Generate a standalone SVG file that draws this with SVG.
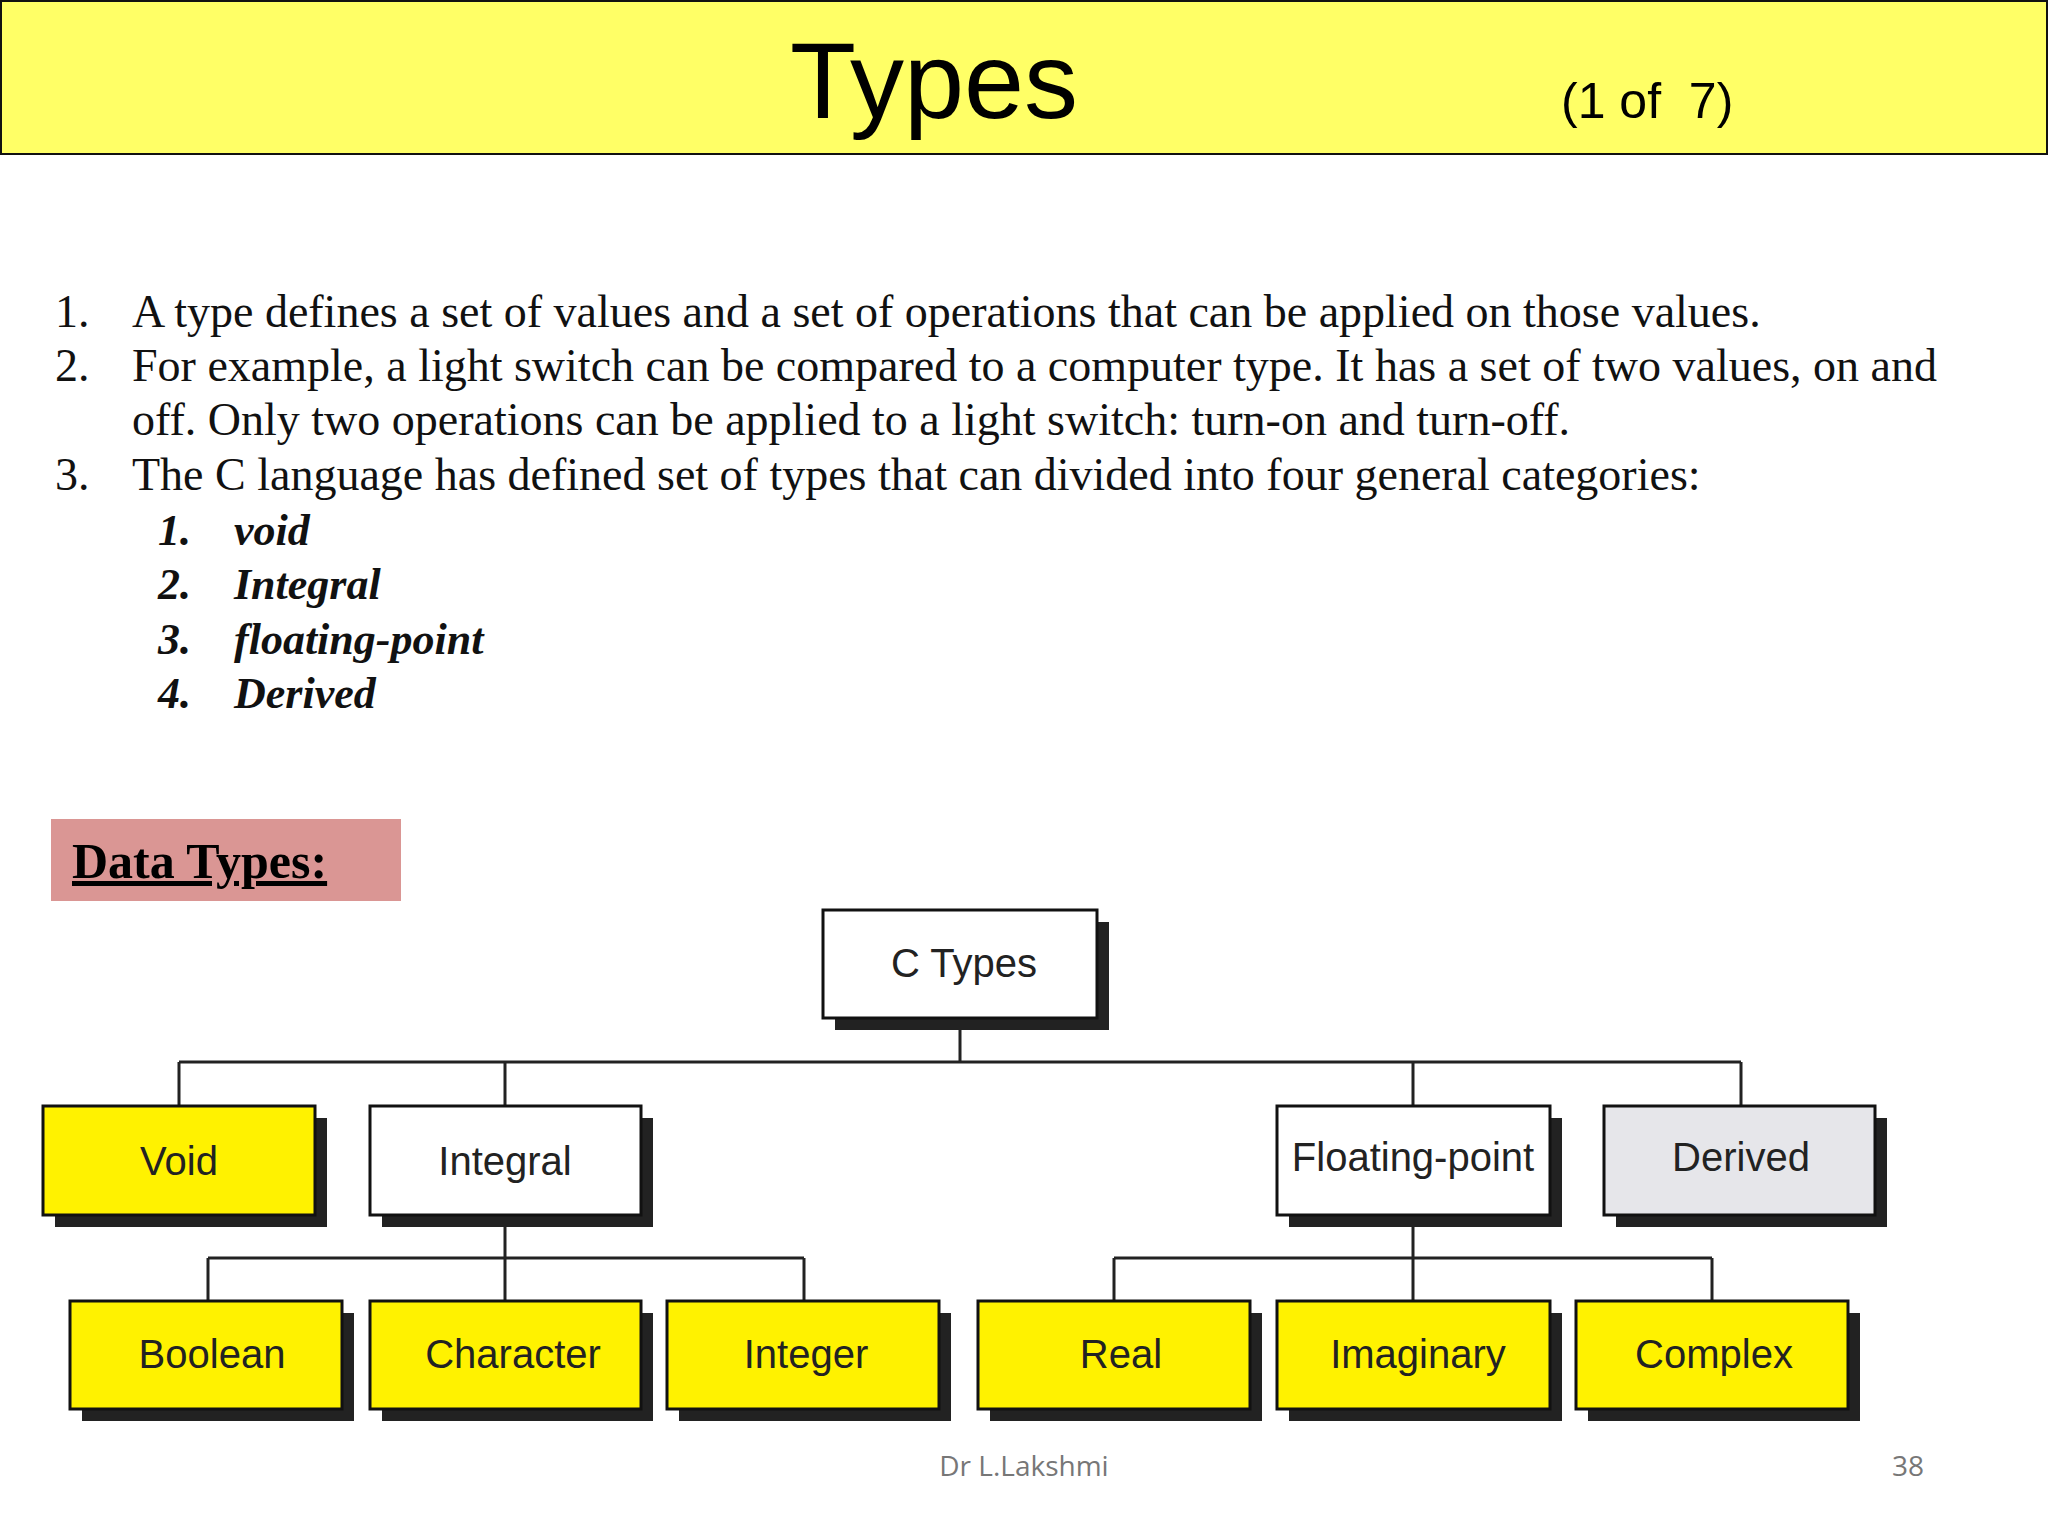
<svg xmlns="http://www.w3.org/2000/svg" width="2048" height="1536" viewBox="0 0 2048 1536">
<style>
.l{font-family:"Liberation Serif",serif;font-size:46px;fill:#111}
.s{font-family:"Liberation Serif",serif;font-size:44px;font-weight:bold;font-style:italic;fill:#111}
.bx{stroke:#111;stroke-width:3}
.sh{fill:#222}
.t{font-family:"Liberation Sans",Arial,sans-serif;font-size:40px;fill:#222;text-anchor:middle}
.c{stroke:#222;stroke-width:3;fill:none}
</style>
<rect x="1" y="1" width="2046" height="153" fill="#ffff66" stroke="#111" stroke-width="2"/>
<text x="934" y="118" font-family="Liberation Sans,Arial,sans-serif" font-size="108" text-anchor="middle" fill="#000">Types</text>
<text x="1561" y="118" font-family="Liberation Sans,Arial,sans-serif" font-size="50" fill="#000" xml:space="preserve">(1 of  7)</text>
<g>
<text class="l" x="55" y="327">1.</text><text class="l" x="132" y="327">A type defines a set of values and a set of operations that can be applied on those values.</text>
<text class="l" x="55" y="381">2.</text><text class="l" x="132" y="381">For example, a light switch can be compared to a computer type. It has a set of two values, on and</text>
<text class="l" x="132" y="435">off. Only two operations can be applied to a light switch: turn-on and turn-off.</text>
<text class="l" x="55" y="490">3.</text><text class="l" x="132" y="490">The C language has defined set of types that can divided into four general categories:</text>
<text class="s" x="158" y="545">1.</text><text class="s" x="234" y="545">void</text>
<text class="s" x="158" y="599">2.</text><text class="s" x="234" y="599">Integral</text>
<text class="s" x="158" y="654">3.</text><text class="s" x="234" y="654">floating-point</text>
<text class="s" x="158" y="708">4.</text><text class="s" x="234" y="708">Derived</text>
</g>
<rect x="51" y="819" width="350" height="82" fill="#da9694"/>
<text x="72" y="878" font-family="Liberation Serif,serif" font-size="50" font-weight="bold" text-decoration="underline" fill="#000">Data Types:</text>
<g id="connectors">
<path class="c" d="M960 1018V1062M179 1062H1741M179 1062V1106M505 1062V1106M1413 1062V1106M1741 1062V1106"/>
<path class="c" d="M505 1215V1258M208 1258H804M208 1258V1301M505 1258V1301M804 1258V1301"/>
<path class="c" d="M1413 1215V1258M1114 1258H1712M1114 1258V1301M1413 1258V1301M1712 1258V1301"/>
</g>
<g id="ctypes"><rect class="sh" x="835" y="922" width="274" height="108"/><rect class="bx" x="823" y="910" width="274" height="108" fill="#fff"/><text class="t" x="964" y="977">C Types</text></g>
<g id="void"><rect class="sh" x="55" y="1118" width="272" height="109"/><rect class="bx" x="43" y="1106" width="272" height="109" fill="#fff200"/><text class="t" x="179" y="1175">Void</text></g>
<g id="integral"><rect class="sh" x="382" y="1118" width="271" height="109"/><rect class="bx" x="370" y="1106" width="271" height="109" fill="#fff"/><text class="t" x="505" y="1175">Integral</text></g>
<g id="floating"><rect class="sh" x="1289" y="1118" width="273" height="109"/><rect class="bx" x="1277" y="1106" width="273" height="109" fill="#fff"/><text class="t" x="1413" y="1171">Floating-point</text></g>
<g id="derived"><rect class="sh" x="1616" y="1118" width="271" height="109"/><rect class="bx" x="1604" y="1106" width="271" height="109" fill="#e6e6ea"/><text class="t" x="1741" y="1171">Derived</text></g>
<g id="boolean"><rect class="sh" x="82" y="1313" width="272" height="108"/><rect class="bx" x="70" y="1301" width="272" height="108" fill="#fff200"/><text class="t" x="212" y="1368">Boolean</text></g>
<g id="character"><rect class="sh" x="382" y="1313" width="271" height="108"/><rect class="bx" x="370" y="1301" width="271" height="108" fill="#fff200"/><text class="t" x="513" y="1368">Character</text></g>
<g id="integer"><rect class="sh" x="679" y="1313" width="272" height="108"/><rect class="bx" x="667" y="1301" width="272" height="108" fill="#fff200"/><text class="t" x="806" y="1368">Integer</text></g>
<g id="real"><rect class="sh" x="990" y="1313" width="272" height="108"/><rect class="bx" x="978" y="1301" width="272" height="108" fill="#fff200"/><text class="t" x="1121" y="1368">Real</text></g>
<g id="imaginary"><rect class="sh" x="1289" y="1313" width="273" height="108"/><rect class="bx" x="1277" y="1301" width="273" height="108" fill="#fff200"/><text class="t" x="1418" y="1368">Imaginary</text></g>
<g id="complex"><rect class="sh" x="1588" y="1313" width="272" height="108"/><rect class="bx" x="1576" y="1301" width="272" height="108" fill="#fff200"/><text class="t" x="1714" y="1368">Complex</text></g>
<text x="1024" y="1476" font-family="Open Sans,sans-serif" font-size="28" fill="#777" text-anchor="middle">Dr L.Lakshmi</text>
<text x="1908" y="1476" font-family="Open Sans,sans-serif" font-size="28" fill="#777" text-anchor="middle">38</text>
</svg>
